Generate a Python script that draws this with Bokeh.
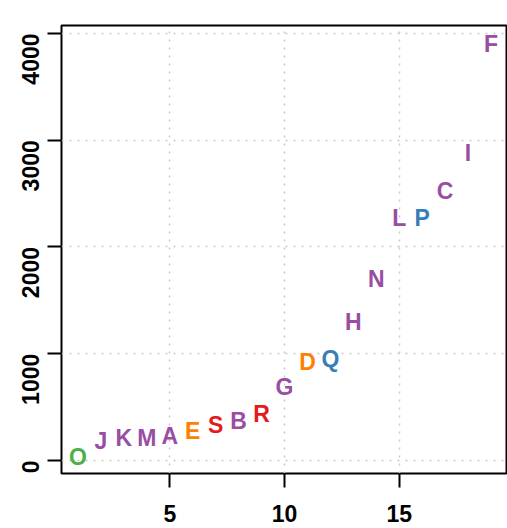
import math
from bokeh.plotting import figure
from bokeh.models import ColumnDataSource, Range1d, FixedTicker
from bokeh.core.properties import value
from bokeh.embed import file_html
from bokeh.resources import INLINE

labels = ["O", "J", "K", "M", "A", "E", "S", "B", "R", "G",
          "D", "Q", "H", "N", "L", "P", "C", "I", "F"]
xs = list(range(1, 20))
ys = [30, 187, 206, 215, 225, 272, 328, 368, 440, 684,
      918, 946, 1293, 1696, 2267, 2276, 2529, 2885, 3906]
groups = ["g", "p", "p", "p", "p", "o", "r", "p", "r", "p",
          "o", "b", "p", "p", "p", "b", "p", "p", "p"]
palette = {"p": "#984EA3", "o": "#FF7F00", "r": "#E41A1C", "b": "#377EB8", "g": "#4DAF4A"}
colors = [palette[g] for g in groups]
x_ticks = [5, 10, 15]
y_ticks = [0, 1000, 2000, 3000, 4000]

src = ColumnDataSource(dict(x=xs, y=ys, label=labels, color=colors))

p = figure(width=507, height=528, output_backend="svg", toolbar_location=None,
           x_range=Range1d(0.28, 19.72), y_range=Range1d(-122, 4075),
           min_border_left=61, min_border_right=0, min_border_top=25, min_border_bottom=55)

p.text(x="x", y="y", text="label", text_color="color", source=src,
       text_font=value("Liberation Sans"), text_font_style="bold",
       text_font_size="23px", text_align="center", text_baseline="middle")

p.outline_line_color = "black"
p.outline_line_width = 2
p.outline_line_alpha = 1

for ax, ticks in ((p.xaxis[0], x_ticks), (p.yaxis[0], y_ticks)):
    ax.ticker = FixedTicker(ticks=ticks)
    ax.axis_line_color = None
    ax.major_tick_line_color = "black"
    ax.major_tick_line_width = 2
    ax.major_tick_out = 14
    ax.major_tick_in = 0
    ax.minor_tick_line_color = None
    ax.major_label_text_font = "Liberation Sans"
    ax.major_label_text_font_style = "bold"
    ax.major_label_text_font_size = "23px"
    ax.major_label_text_color = "black"
    ax.major_label_standoff = 17
p.yaxis[0].major_label_orientation = math.pi / 2

for g in (p.xgrid[0], p.ygrid[0]):
    g.grid_line_color = "#c8c8c8"
    g.grid_line_dash = "2 6"
    g.grid_line_width = 1.5
p.xgrid[0].ticker = FixedTicker(ticks=x_ticks)
p.ygrid[0].ticker = FixedTicker(ticks=y_ticks)

open("out.html", "w").write(file_html(p, INLINE))
